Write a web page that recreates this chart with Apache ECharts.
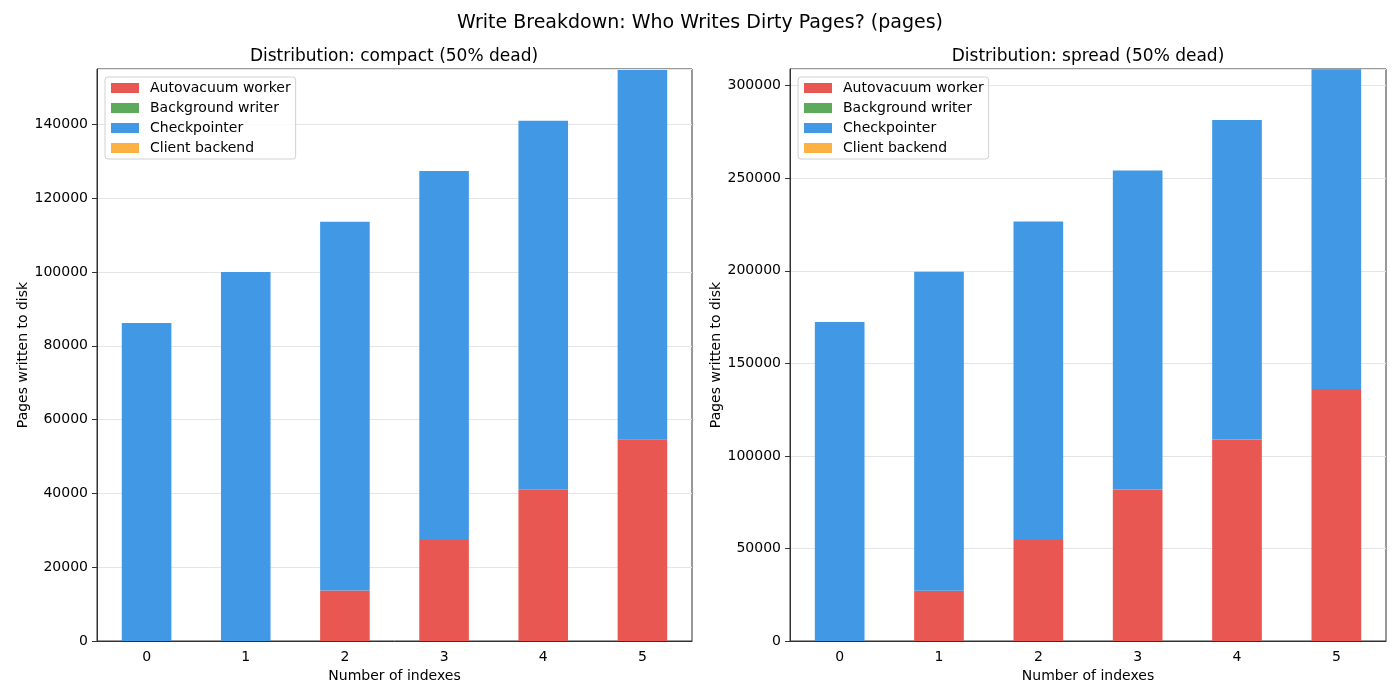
<!DOCTYPE html>
<html>
<head>
<meta charset="utf-8">
<title>Write Breakdown</title>
<script src="https://cdn.jsdelivr.net/npm/echarts@6/dist/echarts.min.js"></script>
<style>
  html, body { margin: 0; padding: 0; background: #fff; }
  #chart { width: 1400px; height: 700px; }
</style>
</head>
<body>
<div id="chart"></div>
<script>
// number of indexes on the x axis
const categories = ['0', '1', '2', '3', '4', '5'];
const writerNames = ['Autovacuum worker', 'Background writer', 'Checkpointer', 'Client backend'];
const writerColors = ['#E85752', '#5DAA5B', '#4199E6', '#FDB142'];

// compact (50% dead)
const compactAutovacuum = [0, 0, 13700, 27350, 41000, 54700];
const compactBgwriter = [0, 0, 0, 0, 0, 0];
const compactCheckpointer = [86200, 100000, 99900, 100000, 100000, 100000];
const compactClient = [0, 0, 0, 0, 0, 0];

// spread (50% dead)
const spreadAutovacuum = [0, 27200, 54600, 81800, 108800, 136200];
const spreadBgwriter = [0, 0, 0, 0, 0, 0];
const spreadCheckpointer = [172300, 172300, 172050, 172400, 172650, 172600];
const spreadClient = [0, 0, 0, 0, 0, 0];

const FONT = 'DejaVu Sans';
const chart = echarts.init(document.getElementById('chart'));

function xAxisFor(idx) {
  return {
    type: 'category',
    gridIndex: idx,
    data: categories,
    name: 'Number of indexes',
    nameLocation: 'middle',
    nameGap: 28,
    nameTextStyle: { fontFamily: FONT, fontSize: 14, color: '#000' },
    axisLine: { lineStyle: { color: '#333', width: 1 } },
    axisTick: { alignWithLabel: true, length: 5, lineStyle: { color: '#333' } },
    axisLabel: { fontFamily: FONT, fontSize: 14, color: '#000', margin: 9 },
    splitLine: { show: false }
  };
}

function yAxisFor(idx, max, interval) {
  return {
    type: 'value',
    gridIndex: idx,
    min: 0,
    max: max,
    interval: interval,
    name: 'Pages written to disk',
    nameLocation: 'middle',
    nameGap: 63,
    nameTextStyle: { fontFamily: FONT, fontSize: 14, color: '#000' },
    axisLine: { show: true, lineStyle: { color: '#333', width: 1 } },
    axisTick: { show: true, length: 5, lineStyle: { color: '#333' } },
    axisLabel: {
      fontFamily: FONT, fontSize: 14, color: '#000', margin: 9, showMaxLabel: false,
      formatter: function (v) { return String(v); }
    },
    splitLine: { show: true, lineStyle: { color: '#e5e5e5', width: 1 } }
  };
}

function legendFor(left) {
  return {
    data: writerNames,
    orient: 'vertical',
    left: left,
    top: 77,
    itemWidth: 28,
    itemHeight: 10,
    itemGap: 6,
    icon: 'rect',
    padding: [4, 5, 4, 6],
    backgroundColor: 'rgba(255,255,255,0.8)',
    borderColor: '#d0d0d0',
    borderWidth: 1,
    borderRadius: 3,
    selectedMode: false,
    textStyle: { fontFamily: FONT, fontSize: 14, color: '#000', padding: [0, 0, 0, 6] }
  };
}

function seriesFor(idx, values) {
  return values.map(function (data, i) {
    return {
      name: writerNames[i],
      type: 'bar',
      xAxisIndex: idx,
      yAxisIndex: idx,
      stack: 'grid' + idx,
      barWidth: '50%',
      data: data,
      itemStyle: { color: writerColors[i] },
      emphasis: { disabled: true }
    };
  });
}

const option = {
  backgroundColor: '#fff',
  animation: false,
  color: writerColors,
  title: [
    {
      text: 'Write Breakdown: Who Writes Dirty Pages? (pages)',
      left: 700, top: 14, textAlign: 'center', padding: 0,
      textStyle: { fontFamily: FONT, fontSize: 19, fontWeight: 'normal', color: '#000' }
    },
    {
      text: 'Distribution: compact (50% dead)',
      left: 394, top: 48, textAlign: 'center', padding: 0,
      textStyle: { fontFamily: FONT, fontSize: 17, fontWeight: 'normal', color: '#000' }
    },
    {
      text: 'Distribution: spread (50% dead)',
      left: 1088, top: 48, textAlign: 'center', padding: 0,
      textStyle: { fontFamily: FONT, fontSize: 17, fontWeight: 'normal', color: '#000' }
    }
  ],
  legend: [legendFor(105), legendFor(798)],
  grid: [
    { left: 97, right: 708, top: 69, bottom: 59, show: true, borderColor: '#333', borderWidth: 1 },
    { left: 790, right: 14, top: 69, bottom: 59, show: true, borderColor: '#333', borderWidth: 1 }
  ],
  xAxis: [xAxisFor(0), xAxisFor(1)],
  yAxis: [yAxisFor(0, 155000, 20000), yAxisFor(1, 309000, 50000)],
  series: seriesFor(0, [compactAutovacuum, compactBgwriter, compactCheckpointer, compactClient])
    .concat(seriesFor(1, [spreadAutovacuum, spreadBgwriter, spreadCheckpointer, spreadClient]))
};

chart.setOption(option);
window.onresize = function () {
  chart.resize();
};
</script>
</body>
</html>
